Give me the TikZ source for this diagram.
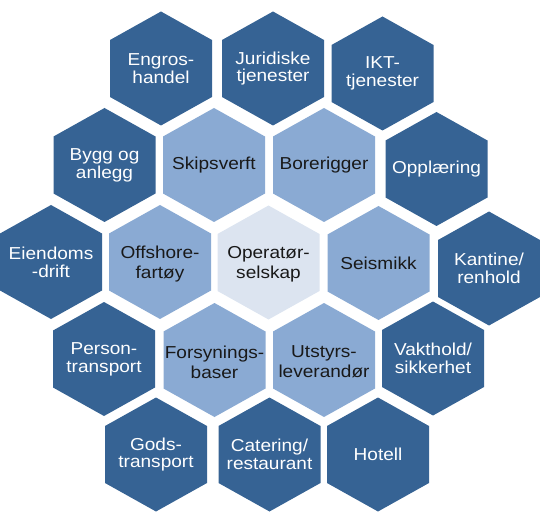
\documentclass[tikz,border=0pt]{standalone}
\usepackage{fontspec}
\setmainfont[FakeStretch=1.1]{Liberation Sans}
\definecolor{dk}{RGB}{54,99,148}
\definecolor{lt}{RGB}{138,170,211}
\definecolor{ct}{RGB}{220,228,240}
\definecolor{tx}{RGB}{25,25,25}
\tikzset{
  hexlbl/.style={align=center,inner sep=0pt},
  outerlbl/.style={hexlbl,text=white,font=\fontsize{17.3}{17.7}\selectfont},
  innerlbl/.style={hexlbl,text=tx,font=\fontsize{17.3}{20}\selectfont},
  outerhex/.style={fill=dk},
  innerhex/.style={fill=lt},
  centerhex/.style={fill=ct},
}
\newcommand\hexat[3]{\fill[#3] (#1,#2) +(0,-57) -- +(51,-28.5) -- +(51,28.5) -- +(0,57) -- +(-51,28.5) -- +(-51,-28.5) -- cycle;}
\begin{document}
\begin{tikzpicture}[x=1pt,y=-1pt]
\useasboundingbox (0,0) rectangle (540,526);
% outer ring
\hexat{161}{68.5}{outerhex}   \node[outerlbl] (engros) at (161,68.5) {Engros-\\handel};
\hexat{273}{68.5}{outerhex}   \node[outerlbl] (jur) at (273,68.5) {Juridiske\\tjenester};
\hexat{382.5}{73.5}{outerhex} \node[outerlbl] (ikt) at (382.5,73.5) {IKT-\\tjenester};
\hexat{104.5}{165}{outerhex}  \node[outerlbl] (bygg) at (104.5,165) {Bygg og\\anlegg};
\hexat{436.5}{169}{outerhex}  \node[outerlbl] (opp) at (436.5,169) {Opplæring};
\hexat{51}{262}{outerhex}     \node[outerlbl] (eien) at (51,262) {Eiendoms\\-drift};
\hexat{489}{268.5}{outerhex}  \node[outerlbl] (kant) at (489,268.5) {Kantine/\\renhold};
\hexat{104}{359}{outerhex}    \node[outerlbl] (pers) at (104,359) {Person-\\transport};
\hexat{433}{358.5}{outerhex}  \node[outerlbl] (vakt) at (433,358.5) {Vakthold/\\sikkerhet};
\hexat{156}{454.5}{outerhex}  \node[outerlbl] (gods) at (156,454.5) {Gods-\\transport};
\hexat{269.5}{454.5}{outerhex}\node[outerlbl] (cat) at (269.5,454.5) {Catering/\\restaurant};
\hexat{378}{454.5}{outerhex}  \node[outerlbl] (hot) at (378,454.5) {Hotell};
% inner ring
\hexat{214}{165}{innerhex}    \node[innerlbl] (skip) at (214,165) {Skipsverft};
\hexat{324}{165}{innerhex}    \node[innerlbl] (bore) at (324,165) {Borerigger};
\hexat{160}{262}{innerhex}    \node[innerlbl] (off) at (160,264) {Offshore-\\fartøy};
\hexat{378.5}{263}{innerhex}  \node[innerlbl] (seis) at (378.5,263) {Seismikk};
\hexat{214.5}{360}{innerhex}  \node[innerlbl] (fors) at (214.5,362) {Forsynings-\\baser};
\hexat{324}{360}{innerhex}    \node[innerlbl] (utst) at (324,362) {Utstyrs-\\leverandør};
% center
\hexat{268.5}{262.5}{centerhex} \node[innerlbl] (oper) at (268.5,264.5) {Operatør-\\selskap};
\end{tikzpicture}
\end{document}
